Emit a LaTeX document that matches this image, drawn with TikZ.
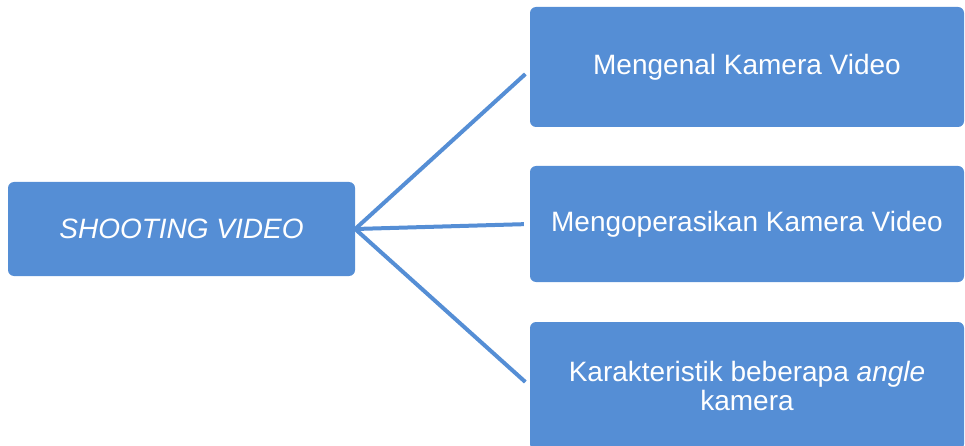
\documentclass[tikz,border=0pt]{standalone}
\usepackage{fontspec}
\setmainfont{Liberation Sans}
\definecolor{boxblue}{RGB}{85,142,213}
\tikzset{
	kotak/.style={fill=boxblue, rounded corners=6pt, text=white, inner sep=0pt, align=center, font=\fontsize{28}{29}\selectfont},
	garis/.style={draw=boxblue, line width=4pt, shorten >=6pt}
}

\begin{document}
\begin{tikzpicture}[x=1pt, y=-1pt]
			%%%%% START %%%%%
			
			\useasboundingbox (0, 0) rectangle (965, 446);
			\clip (0, 0) rectangle (965, 446);
			
			\node[kotak, minimum width=347pt, minimum height=94pt] (shoot) at (181.5, 229) {\textit{SHOOTING VIDEO}};
			
			\node[kotak, minimum width=434pt, minimum height=120pt] (kenal) at (747, 67) {Mengenal Kamera Video};
			\node[kotak, minimum width=434pt, minimum height=116pt] (operasi) at (747, 224) {Mengoperasikan Kamera Video};
			\node[kotak, minimum width=434pt, minimum height=128pt] (angle) at (747, 386) {Karakteristik beberapa \textit{angle}\\kamera};
			
			\draw[garis] (shoot.east) -- ([yshift=-3pt]kenal.west);
			\draw[garis] (shoot.east) -- (operasi.west);
			\draw[garis] (shoot.east) -- (angle.west);
			
			%%%%% END %%%%%
\end{tikzpicture}
\end{document}
